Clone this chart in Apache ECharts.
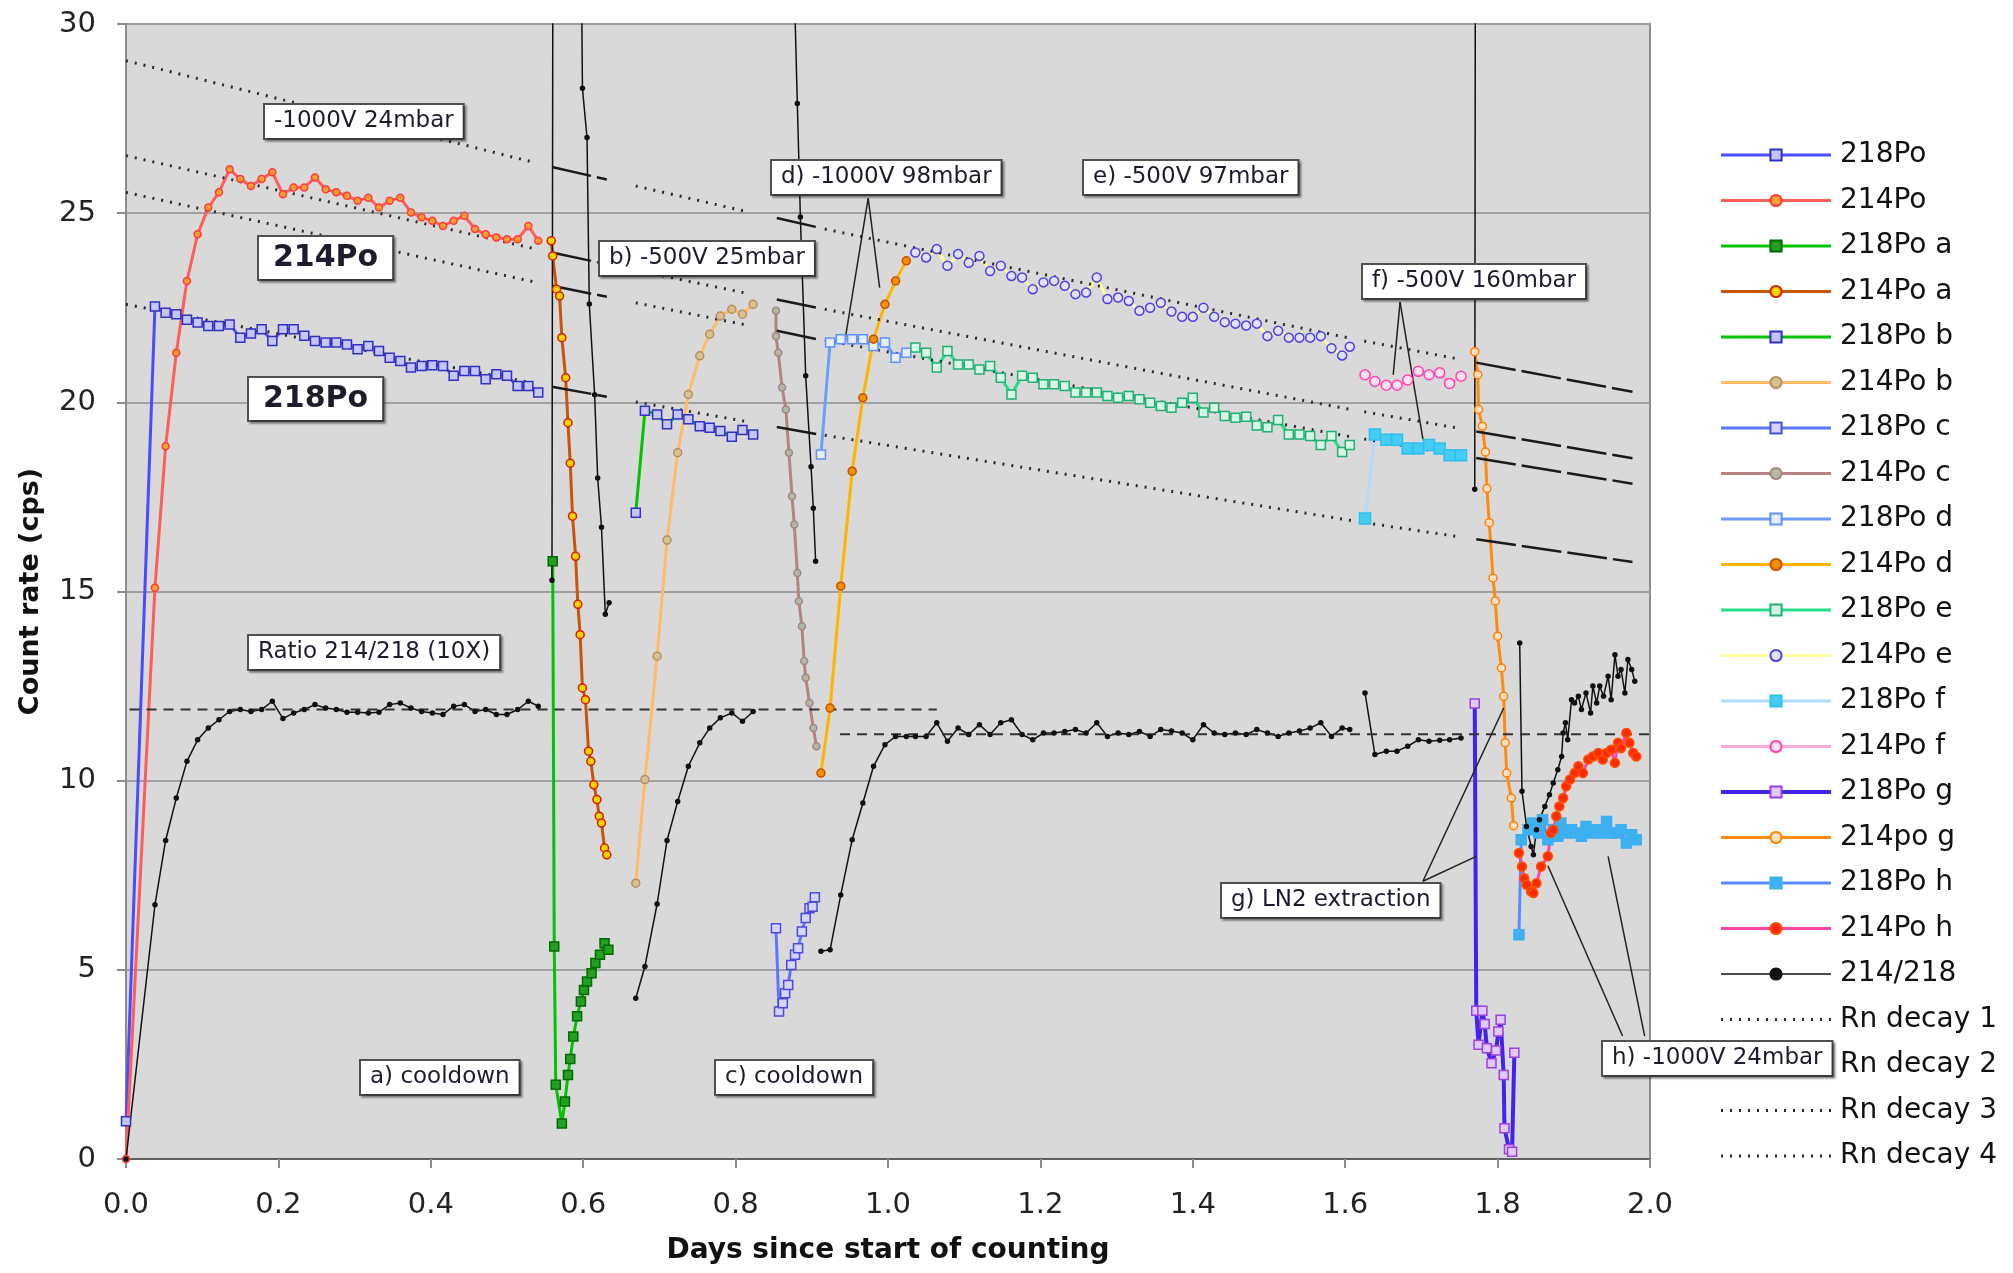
<!DOCTYPE html>
<html>
<head>
<meta charset="utf-8">
<title>Rn daughters - count rate</title>
<script src="https://cdn.jsdelivr.net/npm/echarts@6.0.0/dist/echarts.min.js"></script>
<style>
    html, body { margin: 0; padding: 0; background: #fff; }
    #chart { width: 2013px; height: 1273px; }
</style>
</head>
<body>
<div id="chart"></div>
<script>

// ------------------------------
// Data (days since start of counting, count rate in cps)
// ------------------------------

var xTickLabels = ['0.0', '0.2', '0.4', '0.6', '0.8', '1.0', '1.2', '1.4', '1.6', '1.8', '2.0'];
var yTickLabels = ['0', '5', '10', '15', '20', '25', '30'];

// first run
var t0 = [0.000, 0.038, 0.052, 0.066, 0.080, 0.094, 0.108, 0.122, 0.136, 0.150, 0.164, 0.178, 0.192, 0.206, 0.220, 0.234, 0.248, 0.262, 0.276, 0.290, 0.304, 0.318, 0.332, 0.346, 0.360, 0.374, 0.388, 0.402, 0.416, 0.430, 0.444, 0.458, 0.472, 0.486, 0.500, 0.514, 0.528, 0.541];
var po218_0 = [1.0, 22.53, 22.37, 22.33, 22.18, 22.11, 22.02, 22.02, 22.06, 21.71, 21.82, 21.93, 21.62, 21.93, 21.93, 21.76, 21.62, 21.58, 21.58, 21.53, 21.40, 21.49, 21.36, 21.18, 21.09, 20.92, 20.96, 20.98, 20.96, 20.70, 20.83, 20.83, 20.61, 20.74, 20.70, 20.43, 20.43, 20.26];
var po214_0 = [0, 15.10, 18.84, 21.31, 23.21, 24.44, 25.15, 25.55, 26.16, 25.90, 25.72, 25.90, 26.08, 25.50, 25.68, 25.68, 25.94, 25.63, 25.55, 25.46, 25.33, 25.41, 25.15, 25.33, 25.41, 25.02, 24.89, 24.80, 24.66, 24.80, 24.93, 24.58, 24.44, 24.36, 24.31, 24.31, 24.66, 24.27];
var ratio_0 = [0, 6.72, 8.42, 9.54, 10.51, 11.08, 11.39, 11.61, 11.83, 11.88, 11.83, 11.88, 12.10, 11.64, 11.79, 11.88, 12.01, 11.92, 11.88, 11.81, 11.81, 11.79, 11.81, 12.01, 12.05, 11.92, 11.83, 11.79, 11.75, 11.97, 12.01, 11.83, 11.88, 11.75, 11.75, 11.88, 12.10, 11.97];

// a) cooldown
var tA218 = [0.560, 0.562, 0.564, 0.572, 0.576, 0.580, 0.583, 0.587, 0.592, 0.597, 0.601, 0.605, 0.611, 0.616, 0.622, 0.628, 0.633];
var po218A = [15.80, 5.62, 1.96, 0.94, 1.52, 2.22, 2.64, 3.24, 3.77, 4.16, 4.47, 4.69, 4.91, 5.18, 5.40, 5.70, 5.53];
var tA214 = [0.558, 0.560, 0.565, 0.569, 0.572, 0.577, 0.580, 0.583, 0.586, 0.590, 0.593, 0.596, 0.599, 0.603, 0.607, 0.610, 0.614, 0.618, 0.621, 0.624, 0.628, 0.631];
var po214A = [24.27, 23.87, 22.99, 22.81, 21.71, 20.65, 19.46, 18.39, 16.99, 15.93, 14.66, 13.86, 12.45, 12.14, 10.78, 10.51, 9.89, 9.50, 9.06, 8.88, 8.22, 8.04];
var tRatioA = [0.559, 0.561, 0.597, 0.599, 0.605, 0.608, 0.615, 0.619, 0.624, 0.629, 0.634];
var ratioA = [15.3, 43, 33, 28.3, 27.0, 22.6, 20.2, 18.0, 16.7, 14.4, 14.7];

// b) -500V 25mbar
var tB = [0.669, 0.681, 0.697, 0.710, 0.724, 0.738, 0.753, 0.766, 0.780, 0.795, 0.809, 0.823];
var po218B = [17.08, 19.78, 19.68, 19.42, 19.68, 19.55, 19.37, 19.33, 19.24, 19.09, 19.27, 19.15];
var po214B = [7.29, 10.03, 13.29, 16.36, 18.67, 20.21, 21.23, 21.80, 22.28, 22.46, 22.33, 22.59];
var ratioB = [4.25, 5.09, 6.74, 8.42, 9.45, 10.38, 11.00, 11.39, 11.66, 11.79, 11.57, 11.83];

// c) cooldown
var tC218 = [0.853, 0.857, 0.862, 0.865, 0.869, 0.873, 0.878, 0.882, 0.887, 0.892, 0.897, 0.901, 0.904];
var po218C = [6.10, 3.90, 4.12, 4.38, 4.60, 5.13, 5.40, 5.57, 6.01, 6.37, 6.63, 6.67, 6.92];
var tC214 = [0.853, 0.853, 0.856, 0.861, 0.866, 0.870, 0.874, 0.877, 0.881, 0.883, 0.887, 0.890, 0.892, 0.897, 0.902, 0.906];
var po214C = [22.42, 21.75, 21.31, 20.39, 19.81, 18.67, 17.52, 16.77, 15.49, 14.74, 14.08, 13.16, 12.72, 12.05, 11.39, 10.91];
var tRatioC = [0.853, 0.877, 0.881, 0.885, 0.892, 0.899, 0.902, 0.905];
var ratioC = [37, 31, 27.9, 24.9, 20.7, 18.3, 17.2, 15.8];

// d) -1000V 98mbar
var tD = [0.912, 0.924, 0.938, 0.953, 0.967, 0.981, 0.996, 1.010, 1.024];
var po218D = [18.62, 21.58, 21.67, 21.67, 21.67, 21.49, 21.58, 21.18, 21.31];
var po214D = [10.20, 11.92, 15.14, 18.18, 20.12, 21.67, 22.59, 23.21, 23.74];
var ratioD = [5.49, 5.53, 6.98, 8.44, 9.41, 10.38, 10.95, 11.17, 11.17];

// e) -500V 97mbar
var tE = [1.036, 1.050, 1.064, 1.078, 1.092, 1.106, 1.120, 1.134, 1.148, 1.162, 1.176, 1.190, 1.204, 1.218, 1.232, 1.246, 1.260, 1.274, 1.288, 1.302, 1.316, 1.330, 1.344, 1.358, 1.372, 1.386, 1.400, 1.414, 1.428, 1.442, 1.456, 1.470, 1.484, 1.498, 1.512, 1.526, 1.540, 1.554, 1.568, 1.582, 1.596, 1.606];
var po218E = [21.45, 21.31, 20.92, 21.36, 21.00, 21.00, 20.87, 20.96, 20.65, 20.21, 20.70, 20.65, 20.48, 20.48, 20.43, 20.26, 20.26, 20.26, 20.17, 20.12, 20.17, 20.08, 19.99, 19.90, 19.86, 19.99, 20.12, 19.73, 19.86, 19.64, 19.59, 19.62, 19.39, 19.34, 19.53, 19.15, 19.15, 19.11, 18.87, 19.11, 18.69, 18.87];
var po214E = [23.96, 23.83, 24.05, 23.61, 23.92, 23.69, 23.87, 23.47, 23.61, 23.34, 23.30, 22.99, 23.17, 23.21, 23.08, 22.86, 22.90, 23.30, 22.73, 22.77, 22.68, 22.42, 22.50, 22.63, 22.40, 22.26, 22.26, 22.50, 22.26, 22.12, 22.08, 22.03, 22.08, 21.75, 21.89, 21.71, 21.71, 21.71, 21.75, 21.43, 21.24, 21.47];
var ratioE = [11.17, 11.17, 11.53, 11.04, 11.39, 11.22, 11.48, 11.22, 11.53, 11.61, 11.22, 11.08, 11.26, 11.26, 11.30, 11.35, 11.26, 11.53, 11.17, 11.26, 11.22, 11.30, 11.17, 11.35, 11.31, 11.26, 11.08, 11.48, 11.26, 11.22, 11.26, 11.22, 11.35, 11.26, 11.17, 11.26, 11.31, 11.39, 11.53, 11.17, 11.39, 11.35];

// f) -500V 160mbar
var tF = [1.626, 1.639, 1.654, 1.668, 1.682, 1.696, 1.710, 1.724, 1.737, 1.752];
var po218F = [16.93, 19.15, 19.01, 19.01, 18.78, 18.78, 18.87, 18.78, 18.60, 18.60];
var po214F = [20.73, 20.55, 20.45, 20.45, 20.59, 20.82, 20.73, 20.78, 20.50, 20.69];
var ratioF = [12.32, 10.69, 10.78, 10.78, 10.91, 11.08, 11.04, 11.07, 11.08, 11.13];

// g) LN2 extraction
var tG218 = [1.770, 1.772, 1.775, 1.780, 1.783, 1.786, 1.792, 1.798, 1.801, 1.804, 1.808, 1.809, 1.815, 1.819, 1.822];
var po218G = [12.04, 3.92, 3.02, 3.92, 3.57, 2.93, 2.53, 2.87, 3.37, 3.68, 2.22, 0.81, 0.26, 0.19, 2.81];
var tG214 = [1.770, 1.774, 1.775, 1.780, 1.784, 1.786, 1.789, 1.794, 1.797, 1.800, 1.805, 1.808, 1.810, 1.812, 1.818, 1.821];
var po214G = [21.34, 20.73, 19.81, 19.37, 18.69, 17.72, 16.82, 15.36, 14.75, 13.82, 12.98, 12.23, 11.00, 10.20, 9.54, 8.81];
var tRatioG = [1.770, 1.772, 1.822];
var ratioG = [17.7, 53, 31];

// h) -1000V 24mbar
var tH218 = [1.828, 1.831, 1.840, 1.846, 1.854, 1.859, 1.866, 1.873, 1.879, 1.883, 1.890, 1.897, 1.903, 1.910, 1.916, 1.923, 1.930, 1.936, 1.943, 1.949, 1.956, 1.962, 1.969, 1.976, 1.982];
var po218H = [5.93, 8.44, 8.70, 8.88, 8.62, 8.97, 8.44, 8.70, 8.53, 8.88, 8.62, 8.70, 8.62, 8.53, 8.79, 8.62, 8.70, 8.62, 8.92, 8.62, 8.62, 8.70, 8.35, 8.57, 8.44];
var tH214 = [1.828, 1.832, 1.835, 1.838, 1.844, 1.847, 1.851, 1.857, 1.866, 1.870, 1.873, 1.877, 1.881, 1.886, 1.890, 1.895, 1.901, 1.906, 1.912, 1.919, 1.925, 1.932, 1.938, 1.943, 1.949, 1.954, 1.958, 1.962, 1.969, 1.973, 1.978, 1.982];
var po214H = [8.09, 7.73, 7.42, 7.25, 7.07, 7.03, 7.29, 7.73, 8.00, 8.62, 8.70, 9.06, 9.32, 9.54, 9.85, 10.03, 10.20, 10.38, 10.20, 10.56, 10.64, 10.73, 10.56, 10.73, 10.82, 10.47, 11.00, 10.86, 11.26, 11.00, 10.73, 10.64];
var tRatioH = [1.829, 1.832, 1.838, 1.844, 1.847, 1.851, 1.855, 1.862, 1.868, 1.873, 1.879, 1.884, 1.886, 1.889, 1.892, 1.897, 1.901, 1.906, 1.910, 1.916, 1.922, 1.925, 1.930, 1.934, 1.939, 1.945, 1.949, 1.954, 1.958, 1.962, 1.967, 1.971, 1.976, 1.980];
var ratioH = [13.64, 9.72, 8.79, 8.26, 8.04, 8.70, 8.97, 9.32, 9.63, 9.94, 10.29, 10.64, 11.26, 11.53, 11.08, 12.14, 12.05, 12.23, 11.88, 12.32, 11.79, 12.50, 12.05, 12.50, 12.23, 12.76, 12.14, 13.33, 12.76, 12.94, 12.32, 13.20, 12.94, 12.63];

// Rn decay curves: dotted pieces and solid pieces (start/end of each piece)
var rnDotT = [[0.000, 0.534], [0.669, 0.815], [0.917, 1.610], [1.625, 1.745]];
var rn1Dot = [[29.03, 26.35], [25.72, 25.04], [24.58, 21.68], [21.62, 21.16]];
var rn2Dot = [[26.52, 24.07], [23.49, 22.88], [22.46, 19.80], [19.75, 19.33]];
var rn3Dot = [[25.55, 23.19], [22.63, 22.04], [21.64, 19.08], [19.03, 18.62]];
var rn4Dot = [[22.59, 20.51], [20.01, 19.49], [19.13, 16.87], [16.82, 16.46]];

var rnSolidT = [[0.559, 0.631], [0.854, 0.907], [1.772, 1.977]];
var rn1Solid = [[26.22, 25.89], [24.87, 24.63], [21.05, 20.28]];
var rn2Solid = [[23.96, 23.65], [22.72, 22.50], [19.23, 18.52]];
var rn3Solid = [[23.08, 22.79], [21.89, 21.67], [18.53, 17.85]];
var rn4Solid = [[20.41, 20.15], [19.35, 19.16], [16.38, 15.78]];

// mean ratio reference lines (dashed)
var ratioAvgT = [[-0.040, 1.064], [0.937, 2.066]];
var ratioAvg = [11.88, 11.23];

// callout lines of the text boxes
var callouts = [
    [[0.974, 25.40], [0.943, 21.58]],
    [[0.974, 25.40], [0.989, 23.03]],
    [[1.672, 22.65], [1.663, 20.73]],
    [[1.672, 22.65], [1.702, 19.02]],
    [[1.702, 7.34], [1.772, 8.00]],
    [[1.702, 7.34], [1.808, 11.92]],
    [[1.964, 3.25], [1.866, 7.75]],
    [[1.993, 3.25], [1.945, 8.00]]
];

var legendNames = ['218Po', '214Po', '218Po a', '214Po a', '218Po b', '214Po b', '218Po c', '214Po c',
    '218Po d', '214Po d', '218Po e', '214Po e', '218Po f', '214Po f', '218Po g', '214po g',
    '218Po h', '214Po h', '214/218', 'Rn decay 1', 'Rn decay 2', 'Rn decay 3', 'Rn decay 4'];


// ------------------------------
// Setup
// ------------------------------

var FONT = '"DejaVu Sans", Verdana, sans-serif';

var styles = {
    '218Po':   { line: '#4b4bff', sym: 'rect',   size: 9,  fill: '#c4c4ff', border: '#3030c0' },
    '214Po':   { line: '#ff5c5c', sym: 'circle', size: 7,  fill: '#ffa030', border: '#ff3a3a' },
    '218Po a': { line: '#00c400', sym: 'rect',   size: 9,  fill: '#22a022', border: '#006a00' },
    '214Po a': { line: '#c8560a', sym: 'circle', size: 8,  fill: '#ffd000', border: '#d02000' },
    '218Po b': { line: '#00c400', sym: 'rect',   size: 9,  fill: '#c4c4ff', border: '#3030c8' },
    '214Po b': { line: '#ffbb66', sym: 'circle', size: 8,  fill: '#d8c090', border: '#b89060' },
    '218Po c': { line: '#5a78ff', sym: 'rect',   size: 9,  fill: '#d4d4ff', border: '#4a4ae0' },
    '214Po c': { line: '#b48484', sym: 'circle', size: 7,  fill: '#b4b8a0', border: '#a08888' },
    '218Po d': { line: '#6e9cff', sym: 'rect',   size: 9,  fill: '#e4eeff', border: '#5e90ff' },
    '214Po d': { line: '#ffb400', sym: 'circle', size: 8,  fill: '#f29000', border: '#c85000' },
    '218Po e': { line: '#22dd88', sym: 'rect',   size: 9,  fill: '#d8f4e4', border: '#20b070' },
    '214Po e': { line: '#ffffa0', sym: 'circle', size: 9,  fill: '#e0e0ff', border: '#5040e0' },
    '218Po f': { line: '#b0dcff', sym: 'rect',   size: 11, fill: '#44ccf4', border: '#30bff0' },
    '214Po f': { line: '#ffaad8', sym: 'circle', size: 10, fill: '#ffe0f0', border: '#ff40b0' },
    '218Po g': { line: '#4422ee', sym: 'rect',   size: 9,  fill: '#e0c8ff', border: '#9a40e0', width: 4 },
    '214po g': { line: '#ff8a10', sym: 'circle', size: 8,  fill: '#ffe0c0', border: '#ff8000' },
    '218Po h': { line: '#5a8cff', sym: 'rect',   size: 10, fill: '#3cb0f0', border: '#3cb0f0' },
    '214Po h': { line: '#ff44a8', sym: 'circle', size: 9,  fill: '#ff2a00', border: '#ff5000' },
    '214/218': { line: '#111111', sym: 'circle', size: 4,  fill: '#111111', border: '#111111', width: 1.5 }
};

// zip x and y arrays into points
function xy(ts, vs) {
    return ts.map(function(t, i) { return [t, vs[i]]; });
}

var series = [];

function addData(name, pts) {
    var st = styles[name];
    series.push({
        name: name,
        type: 'line',
        data: pts,
        symbol: st.sym,
        symbolSize: st.size,
        showAllSymbol: true,
        lineStyle: { color: st.line, width: st.width || 3 },
        itemStyle: { color: st.fill, borderColor: st.border, borderWidth: 1.5 },
        emphasis: { disabled: true },
        silent: true
    });
}

function addPlain(name, pts, lineStyle, clip) {
    series.push({
        name: name,
        type: 'line',
        data: pts,
        symbol: 'none',
        lineStyle: lineStyle,
        // keep the legend icon free of a marker
        itemStyle: { color: 'rgba(0,0,0,0)', borderColor: 'rgba(0,0,0,0)' },
        emphasis: { disabled: true },
        silent: true,
        clip: clip !== false
    });
}

// Po series
addData('218Po', xy(t0, po218_0));
addData('214Po', xy(t0, po214_0));
addData('218Po a', xy(tA218, po218A));
addData('214Po a', xy(tA214, po214A));
addData('218Po b', xy(tB, po218B));
addData('214Po b', xy(tB, po214B));
addData('218Po c', xy(tC218, po218C));
addData('214Po c', xy(tC214, po214C));
addData('218Po d', xy(tD, po218D));
addData('214Po d', xy(tD, po214D));
addData('218Po e', xy(tE, po218E));
addData('214Po e', xy(tE, po214E));
addData('218Po f', xy(tF, po218F));
addData('214Po f', xy(tF, po214F));
addData('218Po g', xy(tG218, po218G));
addData('214po g', xy(tG214, po214G));
addData('218Po h', xy(tH218, po218H));
addData('214Po h', xy(tH214, po214H));

// ratio 214/218 (10X), one piece per run
addData('214/218', xy(t0, ratio_0));
addData('214/218', xy(tRatioA, ratioA));
addData('214/218', xy(tB, ratioB));
addData('214/218', xy(tRatioC, ratioC));
addData('214/218', xy(tD, ratioD).concat(xy(tE, ratioE)));
addData('214/218', xy(tF, ratioF));
addData('214/218', xy(tRatioG, ratioG));
addData('214/218', xy(tRatioH, ratioH));

// Rn decay curves
var dotted = { color: '#2a2a2a', width: 3, type: [2, 7] };
var solid = { color: '#1a1a1a', width: 2.5, type: [40, 6] };
[rn1Dot, rn2Dot, rn3Dot, rn4Dot].forEach(function(vals, k) {
    rnDotT.forEach(function(ts, i) {
        addPlain('Rn decay ' + (k + 1), xy(ts, vals[i]), dotted);
    });
});
[rn1Solid, rn2Solid, rn3Solid, rn4Solid].forEach(function(vals) {
    rnSolidT.forEach(function(ts, i) {
        addPlain('', xy(ts, vals[i]), solid);
    });
});

// mean ratio lines
ratioAvgT.forEach(function(ts, i) {
    addPlain('', xy(ts, [ratioAvg[i], ratioAvg[i]]), { color: '#333', width: 2, type: [10, 7] }, false);
});

// callouts
callouts.forEach(function(seg) {
    addPlain('', seg, { color: '#222', width: 1.5 }, false);
});


// text boxes
function box(text, left, top, size, bold) {
    return {
        type: 'text',
        left: left,
        top: top,
        z: 100,
        silent: true,
        style: {
            text: text,
            font: (bold ? 'bold ' : '') + size + 'px ' + FONT,
            fill: '#1c1c2c',
            backgroundColor: '#ffffff',
            borderColor: '#505050',
            borderWidth: 2,
            padding: bold ? [6, 14] : [5, 9],
            shadowColor: 'rgba(0,0,0,0.35)',
            shadowOffsetX: 2,
            shadowOffsetY: 2,
            shadowBlur: 2
        }
    };
}

var chart = echarts.init(document.getElementById('chart'));

chart.setOption({
    animation: false,
    backgroundColor: '#ffffff',
    textStyle: { fontFamily: FONT },

    grid: {
        left: 126,
        top: 24,
        width: 1524,
        height: 1135,
        show: true,
        backgroundColor: '#d9d9d9',
        borderColor: '#8c8c8c',
        borderWidth: 2,
        containLabel: false,
        outerBoundsMode: 'none'
    },

    legend: {
        data: legendNames,
        orient: 'vertical',
        left: 1714,
        top: 136,
        itemWidth: 110,
        itemHeight: 14,
        itemGap: 17.5,
        selectedMode: false,
        lineStyle: { width: 'inherit' },
        textStyle: { fontFamily: FONT, fontSize: 28, lineHeight: 28, color: '#111', padding: [0, 0, 0, 4] }
    },

    xAxis: {
        type: 'value',
        min: 0,
        max: 2,
        interval: 0.2,
        name: 'Days since start of counting',
        nameLocation: 'middle',
        nameGap: 78,
        nameTextStyle: { fontFamily: FONT, fontSize: 28, fontWeight: 'bold', color: '#111' },
        axisLabel: {
            fontFamily: FONT,
            fontSize: 29,
            color: '#222',
            margin: 32,
            formatter: function(v) { return xTickLabels[Math.round(v / 0.2)]; }
        },
        axisLine: { show: true, onZero: false, lineStyle: { color: '#606060', width: 2 } },
        axisTick: { show: true, length: 9, lineStyle: { color: '#8c8c8c', width: 2 } },
        splitLine: { show: false }
    },

    yAxis: {
        type: 'value',
        min: 0,
        max: 30,
        interval: 5,
        name: 'Count rate (cps)',
        nameLocation: 'middle',
        nameGap: 82,
        nameTextStyle: { fontFamily: FONT, fontSize: 27, fontWeight: 'bold', color: '#111' },
        axisLabel: {
            fontFamily: FONT,
            fontSize: 29,
            color: '#222',
            margin: 30,
            formatter: function(v) { return yTickLabels[Math.round(v / 5)]; }
        },
        axisLine: { show: true, lineStyle: { color: '#8c8c8c', width: 2 } },
        axisTick: { show: true, length: 9, lineStyle: { color: '#8c8c8c', width: 2 } },
        splitLine: { show: true, lineStyle: { color: '#a0a0a0', width: 2 } }
    },

    graphic: [
        box('-1000V 24mbar', 263, 103, 23),
        box('214Po', 257, 235, 30, true),
        box('218Po', 247, 376, 30, true),
        box('b) -500V 25mbar', 598, 240, 23),
        box('d) -1000V 98mbar', 770, 159, 23),
        box('e) -500V 97mbar', 1082, 159, 23),
        box('f) -500V 160mbar', 1361, 263, 23),
        box('Ratio 214/218 (10X)', 247, 634, 23),
        box('a) cooldown', 359, 1059, 23),
        box('c) cooldown', 714, 1059, 23),
        box('g) LN2 extraction', 1220, 882, 23),
        box('h) -1000V 24mbar', 1601, 1040, 23)
    ],

    series: series
});

</script>
</body>
</html>
